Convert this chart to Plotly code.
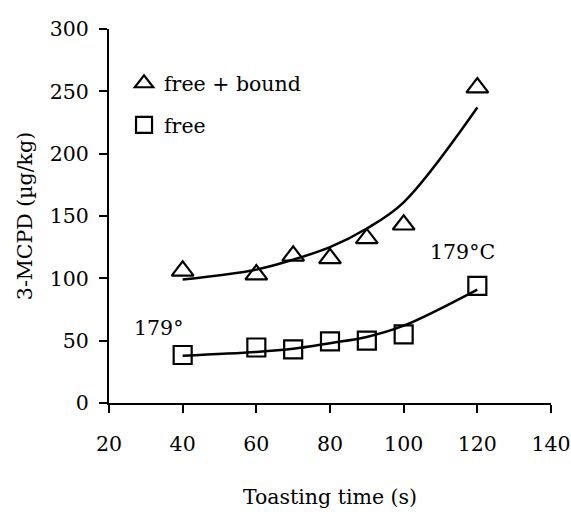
import plotly.graph_objects as go

time_s = [40, 60, 70, 80, 90, 100, 120]
free_bound = [106, 103, 118, 116, 132, 143, 253]
free = [38.5, 44.5, 43, 49.5, 50, 55, 94]
fit_free_bound = [99, 107, 115, 125, 140, 161, 237]
fit_free = [38, 41, 43.5, 48, 53, 62, 91]

FONT = "DejaVu Serif"
FS = 20.5

fig = go.Figure()
fig.add_trace(go.Scatter(x=time_s, y=fit_free_bound, mode="lines", line=dict(color="black", width=2.5, shape="spline"), showlegend=False, hoverinfo="skip"))
fig.add_trace(go.Scatter(x=time_s, y=fit_free, mode="lines", line=dict(color="black", width=2.5, shape="spline"), showlegend=False, hoverinfo="skip"))
fig.add_trace(go.Scatter(x=time_s, y=free_bound, mode="markers", name="free + bound", legendgroup="a",
                         marker=dict(symbol="triangle-up-open", size=19, color="black", line=dict(width=2.2, color="black"))))
fig.add_trace(go.Scatter(x=time_s, y=free, mode="markers", name="free", legendgroup="b",
                         marker=dict(symbol="square-open", size=18, color="black", line=dict(width=2.2, color="black"))))

fig.add_annotation(x=33.4, y=60, text="179°", showarrow=False, font=dict(family=FONT, size=FS, color="black"))
fig.add_annotation(x=116, y=121, text="179°C", showarrow=False, font=dict(family=FONT, size=FS, color="black"))

axis_common = dict(showline=True, linecolor="black", linewidth=2, ticks="outside", ticklen=8, tickwidth=2,
                   tickcolor="black", showgrid=False, zeroline=False, mirror=False,
                   ticklabeloverflow="allow",
                   tickfont=dict(family=FONT, size=FS, color="black"))
fig.update_xaxes(range=[20, 140], dtick=20, tick0=20, ticklabelstandoff=13,
                 title=dict(text="Toasting time (s)", font=dict(family=FONT, size=FS, color="black"), standoff=35),
                 **axis_common)
fig.update_yaxes(range=[0, 300], dtick=50, tick0=0, ticklabelstandoff=6,
                 title=dict(text="3-MCPD (µg/kg)", font=dict(family=FONT, size=FS, color="black"), standoff=12),
                 **axis_common)

fig.update_layout(
    width=571, height=514,
    margin=dict(l=109, r=20, t=29, b=111, autoexpand=False),
    plot_bgcolor="white", paper_bgcolor="white",
    font=dict(family=FONT, size=FS, color="black"),
    legend=dict(x=0.034, y=0.908, xanchor="left", yanchor="top", bgcolor="rgba(0,0,0,0)",
                tracegroupgap=12, traceorder="grouped", font=dict(family=FONT, size=FS, color="black"),
                itemwidth=30),
)

# remove the default page margin so the 571x514 figure fills the window exactly
fig.write_html("out.html", config={"displayModeBar": False},
               post_script="document.body.style.margin='0';document.body.style.overflow='hidden';")
